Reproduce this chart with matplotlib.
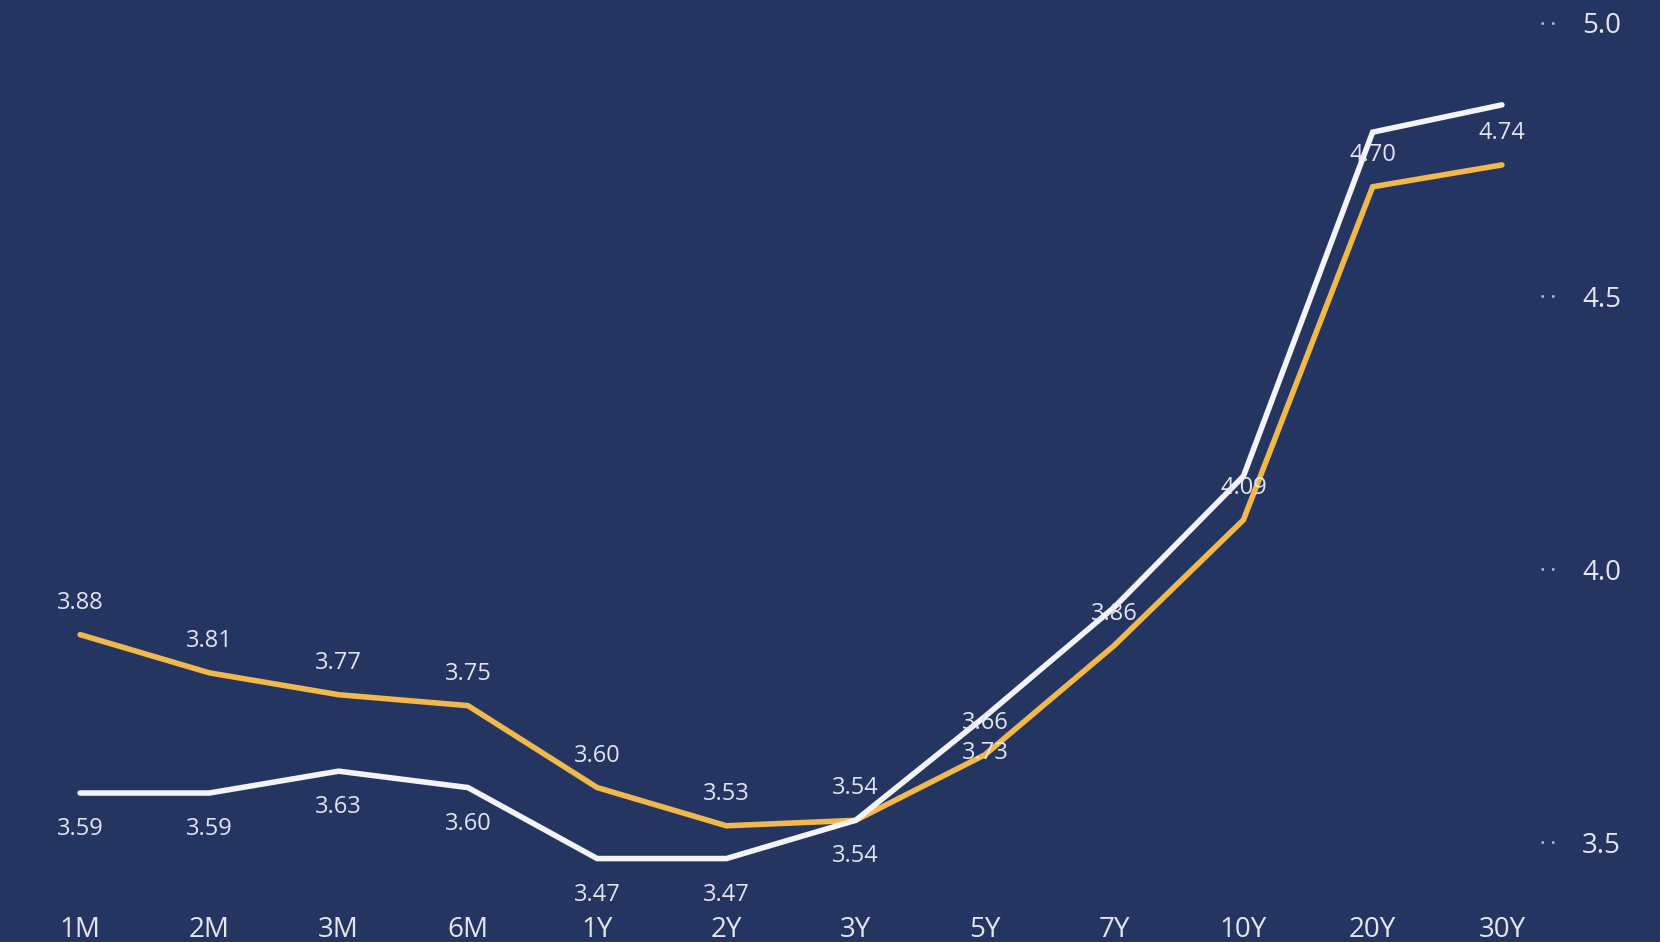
import matplotlib
matplotlib.use("Agg")
import matplotlib.pyplot as plt

# yield curve, two dates
tenors = ["1M", "2M", "3M", "6M", "1Y", "2Y", "3Y", "5Y", "7Y", "10Y", "20Y", "30Y"]
gold_vals = [3.88, 3.81, 3.77, 3.75, 3.60, 3.53, 3.54, 3.66, 3.86, 4.09, 4.70, 4.74]
white_vals = [3.59, 3.59, 3.63, 3.60, 3.47, 3.47, 3.54, 3.73, 3.93, 4.17, 4.80, 4.85]
# data labels that are visible for the white series (others are hidden behind overlaps)
white_label_shown = [True, True, True, True, True, True, True, True, False, False, False, False]
y_ticks = [3.5, 4.0, 4.5, 5.0]

bg = "#253562"
gold = "#F2B84B"
white = "#F4F4F6"
text_col = "#E4E6EC"

plt.rcParams["font.family"] = ["Open Sans", "DejaVu Sans"]

fig = plt.figure(figsize=(16.6, 9.42), dpi=100, facecolor=bg)
ax = fig.add_axes([0.0, 0.0393, 0.9398, 0.9607], facecolor=bg)

x = list(range(len(tenors)))
ax.plot(x, gold_vals, color=gold, lw=4, solid_joinstyle="miter", solid_capstyle="round", zorder=2)
ax.plot(x, white_vals, color=white, lw=4, solid_joinstyle="miter", solid_capstyle="round", zorder=3)

for i, v in enumerate(gold_vals):
    ax.annotate(f"{v:.2f}", (i, v), xytext=(0, 23), textcoords="offset points",
                ha="center", va="center", fontsize=17, color=text_col, zorder=5)
for i, v in enumerate(white_vals):
    if white_label_shown[i]:
        ax.annotate(f"{v:.2f}", (i, v), xytext=(0, -26), textcoords="offset points",
                    ha="center", va="center", fontsize=17, color=text_col, zorder=5)

ax.set_xlim(-0.62, 11.45)
ax.set_ylim(3.385, 5.042)
ax.set_xticks(x)
ax.set_xticklabels(tenors)
ax.yaxis.tick_right()
ax.set_yticks(y_ticks)
ax.set_yticklabels([f"{t:.1f}" for t in y_ticks])
ax.tick_params(axis="x", length=0, pad=8, labelsize=20, colors=text_col)
ax.tick_params(axis="y", length=0, pad=16, labelsize=20, colors=text_col)

# short dotted grid stubs next to the value axis labels
for t in y_ticks:
    ax.axhline(t, xmin=0.988, xmax=0.9985, color="#B4BBCF", lw=1.8,
               linestyle=(0, (1, 3.2)), zorder=1)

for s in ax.spines.values():
    s.set_visible(False)

fig.savefig("out.png", dpi=100, facecolor=bg)
